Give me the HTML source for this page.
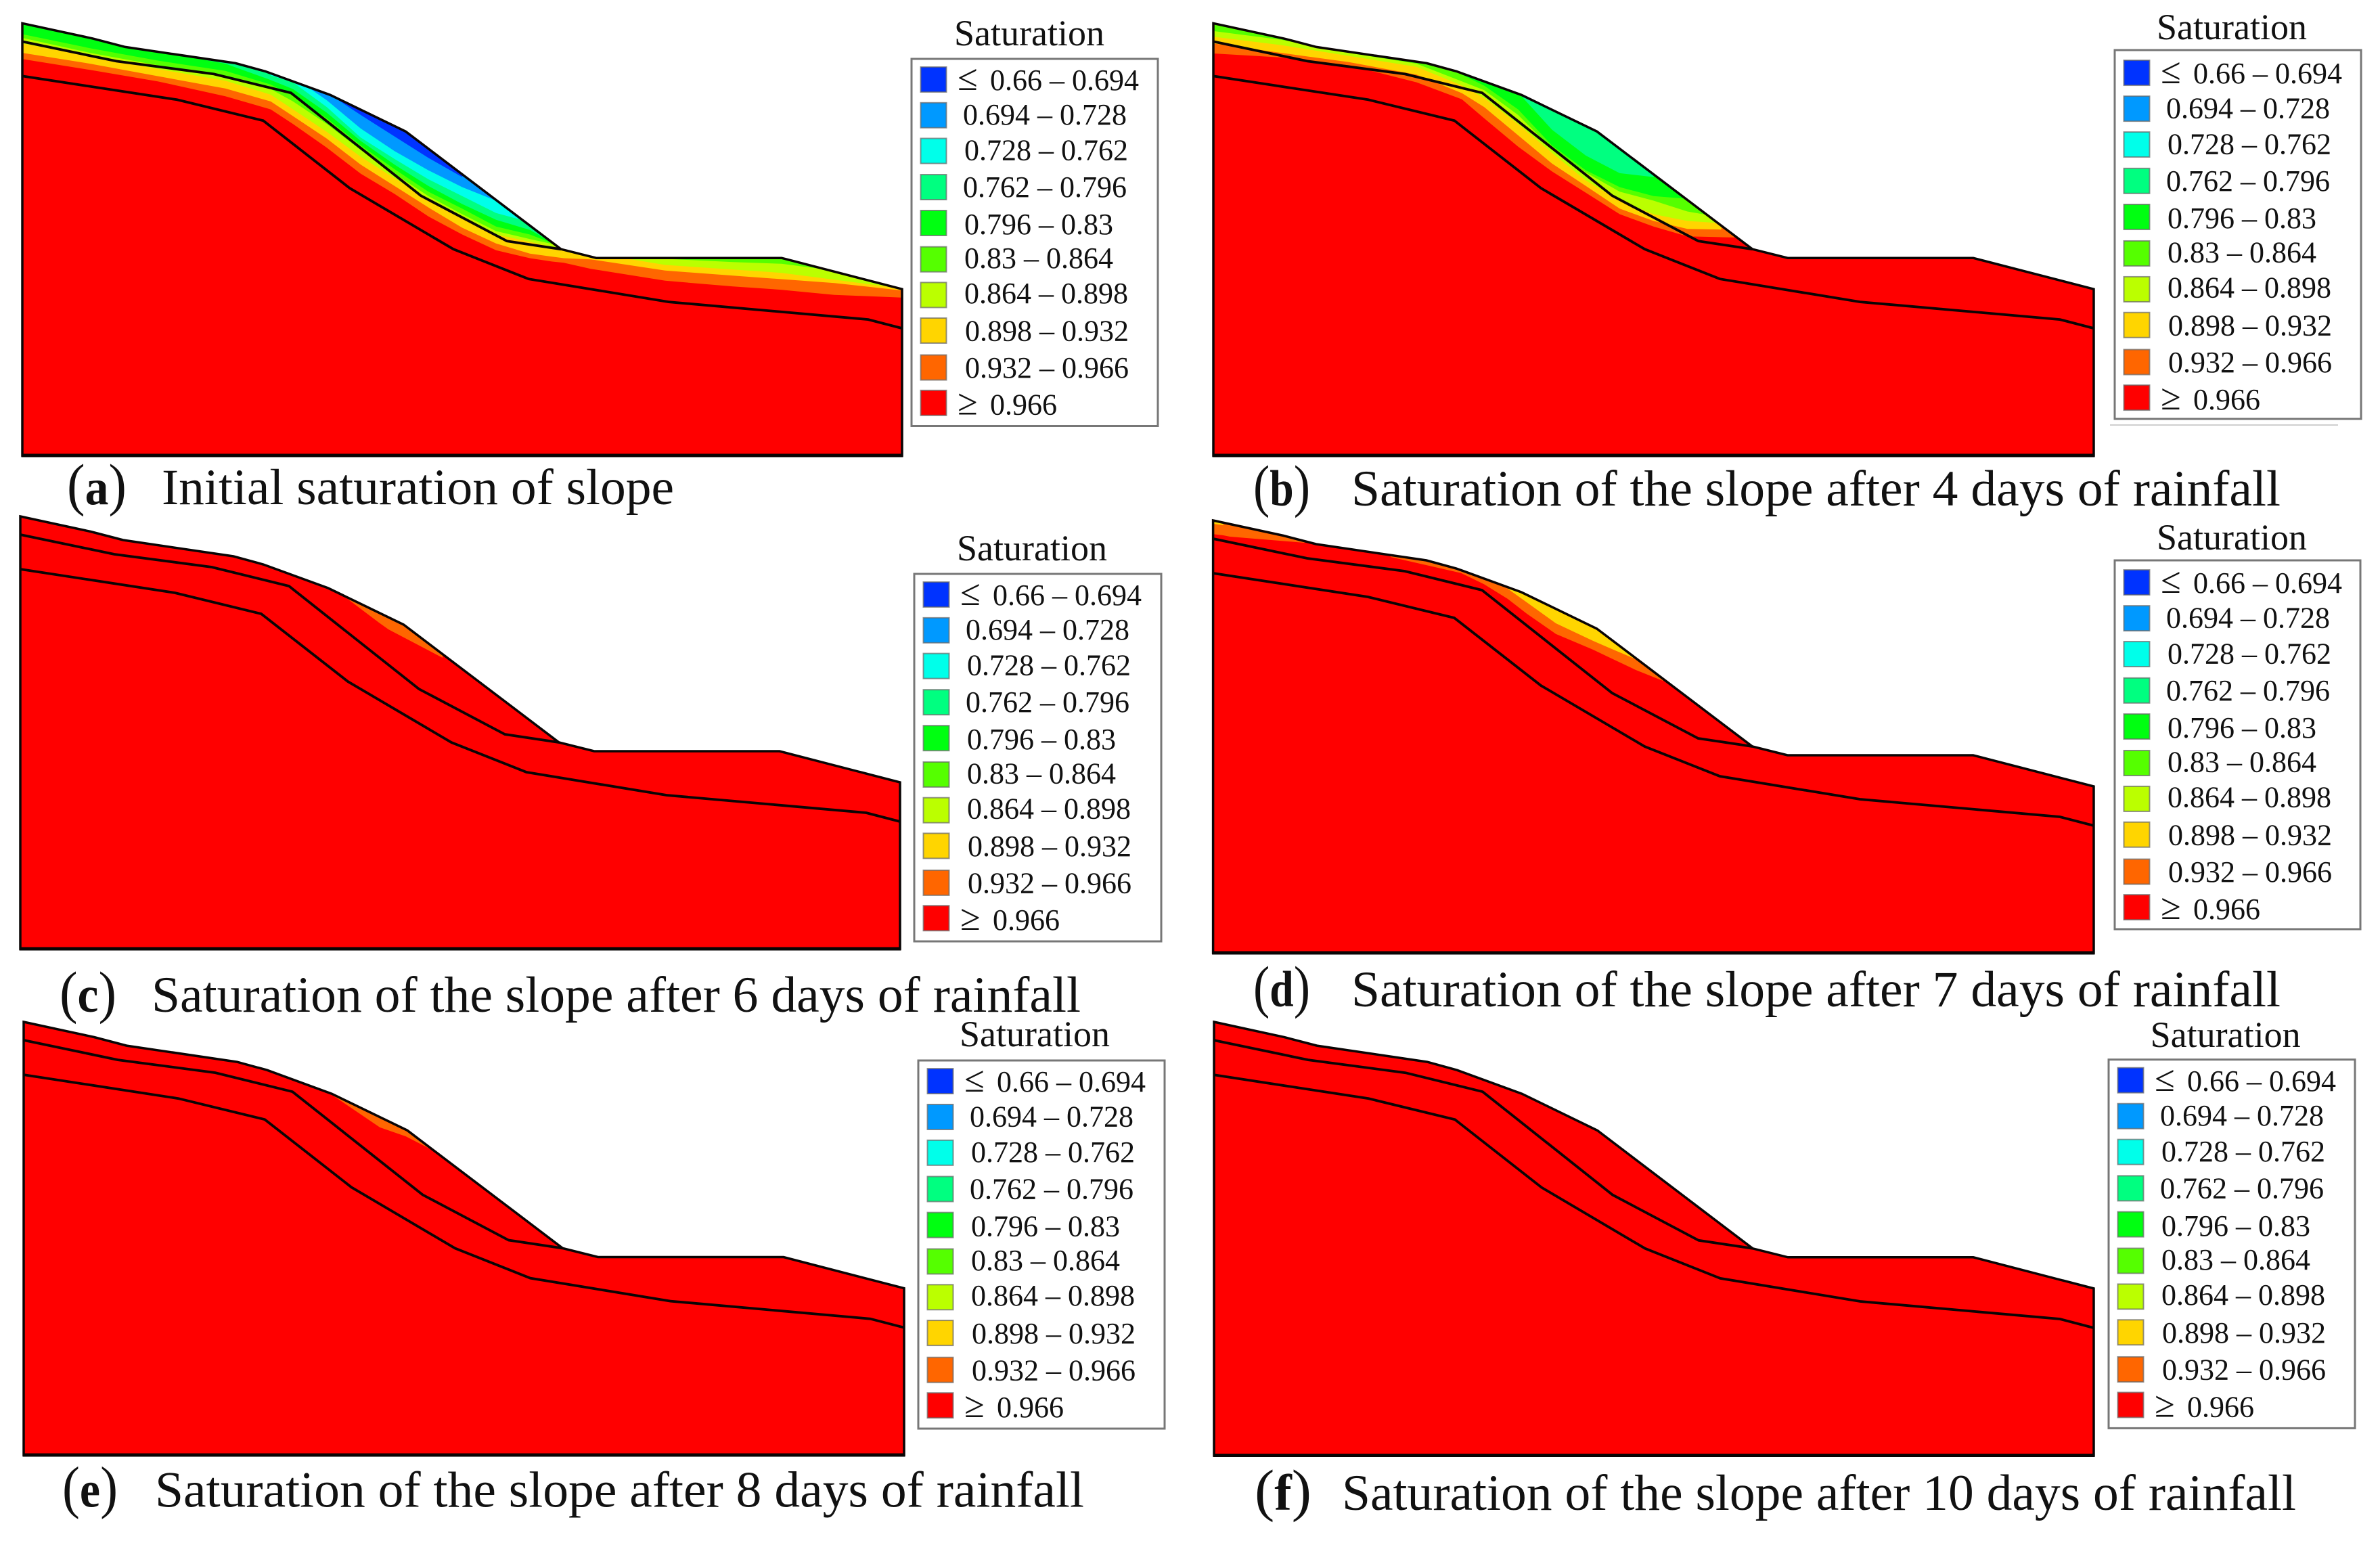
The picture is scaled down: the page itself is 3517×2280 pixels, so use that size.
<!DOCTYPE html>
<html lang="en">
<head>
<meta charset="utf-8">
<title>Slope saturation under rainfall</title>
<style>
html,body{margin:0;padding:0;background:#fff;}
body{width:3517px;height:2280px;overflow:hidden;}
svg{display:block;}
text{font-family:"Liberation Serif","Noto Serif CJK SC",serif;fill:#111;}
</style>
</head>
<body>
<svg id="figure" xmlns="http://www.w3.org/2000/svg" width="3517" height="2280" viewBox="0 0 3517 2280">
<rect x="0" y="0" width="3517" height="2280" fill="#ffffff"/>
<line x1="3118" y1="628" x2="3455" y2="628" stroke="#cfcfcf" stroke-width="2"/>
</svg>
<script>
// Slope geometry: distance along the section and elevation, in model metres.
const surfaceX = [0,10.4,15.2,31.5,35.9,45.5,56.65,79.6,84.8,112.2,130];
const surfaceElev = [63.9,61.65,60.4,58,56.8,53.3,47.9,30.5,29.2,29.2,24.6];
const upperLayerX = [0,13.9,28.3,39.7,58.9,71.6,79.6];
const upperLayerElev = [61.2,58.3,56.4,53.6,38.4,31.7,30.5];
const lowerLayerX = [0,22.85,35.6,48.4,63.7,74.8,95.5,125,130];
const lowerLayerElev = [56.1,52.6,49.5,39.5,30.5,26.1,22.7,20.1,18.8];

// Legend classes
const classLabels = ["0.66 – 0.694","0.694 – 0.728","0.728 – 0.762","0.762 – 0.796","0.796 – 0.83","0.83 – 0.864","0.864 – 0.898","0.898 – 0.932","0.932 – 0.966","0.966"];
const classPrefixes = ["≤","","","","","","","","","≥"];
const classColors = ["#0033ff","#0099ff","#00ffea","#00ff80","#00ff11","#55ff00","#bbff00","#ffd500","#ff6600","#ff0000"];

// Contours: elevation of each saturation threshold at each station. null = contour lies above the ground here.
const stationsA = [0,10,20,30,36.7,40,45,50,55,60,65,70,75,78.3,80,84,95,105,112.2,120,130];
const contourA_0694 = [null,null,null,null,null,null,53.67,50.34,47.17,44,41.17,null,null,null,null,null,null,null,null,null,null];
const contourA_0728 = [null,null,null,null,56.6,56,52.5,48.34,45,42.17,39.67,37.67,null,null,null,null,null,null,null,null,null];
const contourA_0762 = [null,null,null,null,56.2,55.17,51.5,47,43.84,40.84,38.34,35.84,34.5,null,null,null,null,null,null,null,null];
const contourA_0796 = [null,null,59.76,57.93,55.5,54.17,50.67,46.5,43,39.84,37.17,34.84,33.34,31.5,null,null,null,null,null,null,null];
const contourA_083 = [62.29,60.22,58.39,56.87,54.84,53.17,49.84,45.84,42.34,39,36.5,33.84,32.67,31.4,null,null,29.6,29.34,29.07,28.5,null];
const contourA_0864 = [61.74,59.53,57.7,56.09,54.17,52.34,49,45.17,41.67,38.34,35.67,33.17,32,31.27,31,null,29.07,28.6,28.34,27.34,null];
const contourA_0898 = [60.91,59.08,57.15,55.4,53.34,51.17,47.84,44.17,41,37.84,35,32.67,31.6,30.84,30.67,30,28.17,27.5,27,26,24.67];
const contourA_0932 = [59.53,57.93,56.09,54.25,52.34,50.17,46.84,43,39.84,36.67,33.67,31.34,29.84,29.4,29.17,29,27.34,26.6,26.07,25.5,24.4];
const contourA_0966 = [58.62,57.01,55.31,53.11,51.17,49,45.5,41.67,38.67,35.34,32.67,30.34,29.17,28.67,28.5,27.6,25.84,25,24.5,23.74,23.34];

const stationsB = [0,10,20,30,36.7,40,45,50,55,60,65,70,75,78.3];
const contourB_0796 = [null,null,null,null,null,null,53.67,48.17,44.34,41.74,41.17,null,null,null];
const contourB_083 = [null,null,null,null,56.32,54.67,51.17,45.84,42.17,39.67,38.34,37.94,null,null];
const contourB_0864 = [62.75,61.46,59.53,57.93,55.31,54,50.34,45.34,41.84,39,37.67,36.07,35.2,null];
const contourB_0898 = [61.92,60.68,59.08,57.47,54.71,52.84,49,44.74,40.67,37.67,35.67,34.67,34.34,null];
const contourB_0932 = [60.91,59.53,58.16,56.32,53.57,51.5,47.34,43.17,39.84,36.5,34.67,33.5,33.4,null];
const contourB_0966 = [59.44,58.85,57.7,55.17,52.65,49.84,45.67,42,38.84,35.67,33.84,32.4,32.27,32.2];

const stationsC = [45,48.1,53,54.4,62.4,65];
const contourC_0966 = [null,51.9,48.2,47.2,43,null];

const stationsD = [0,1.5,2.5,13.5,15,26.3,36.6,40,43.5,46.3,50.6,56.1,58.4,62.4,66.4,70];
const contourD_0932 = [63.4,63.2,null,null,null,null,null,null,53.8,51.8,48.7,46.1,45.1,43.4,null,null];
const contourD_0966 = [61.87,61.7,61.5,60.6,null,58.47,56.13,54.47,52.3,50.13,47.13,44.8,43.7,41.8,40.2,null];

const stationsE = [43,45,52.6,56.45,60,62];
const contourE_0966 = [null,53.5,48.33,47,45.17,null];

const stationsF = [];

// Captions
const captionLetters = ["a","b","c","d","e","f"];
const captionTexts = ["Initial saturation of slope","Saturation of the slope after 4 days of rainfall","Saturation of the slope after 6 days of rainfall","Saturation of the slope after 7 days of rainfall","Saturation of the slope after 8 days of rainfall","Saturation of the slope after 10 days of rainfall"];
const legendTitle = "Saturation";

// Which colour class starts at the ground surface, and which class each contour reveals beneath it
const panelContours = [
  {base:0, stations:stationsA, lines:[[1,contourA_0694],[2,contourA_0728],[3,contourA_0762],[4,contourA_0796],[5,contourA_083],[6,contourA_0864],[7,contourA_0898],[8,contourA_0932],[9,contourA_0966]]},
  {base:3, stations:stationsB, lines:[[4,contourB_0796],[5,contourB_083],[6,contourB_0864],[7,contourB_0898],[8,contourB_0932],[9,contourB_0966]]},
  {base:8, stations:stationsC, lines:[[9,contourC_0966]]},
  {base:7, stations:stationsD, lines:[[8,contourD_0932],[9,contourD_0966]]},
  {base:8, stations:stationsE, lines:[[9,contourE_0966]]},
  {base:9, stations:stationsF, lines:[]}
];

// Page layout (pixels) — separate from the data above
const frames = [
  {left:33,top:34.4,right:1333,bottom:673},
  {left:1793,top:34.4,right:3094,bottom:673},
  {left:30,top:763,right:1330,bottom:1402},
  {left:1792.6,top:769,right:3094,bottom:1408},
  {left:35,top:1510,right:1336,bottom:2150},
  {left:1794,top:1510,right:3094,bottom:2150.5}
];
const legendBoxes = [
  {left:1347,top:87,width:364,height:542.5,titleX:1521,titleY:67,rowShift:0},
  {left:3125,top:74,width:364,height:545,titleX:3298,titleY:58,rowShift:3},
  {left:1351,top:848,width:365,height:543,titleX:1525,titleY:828,rowShift:0},
  {left:3125,top:828,width:363,height:545,titleX:3298,titleY:812,rowShift:2},
  {left:1357,top:1567,width:364,height:544,titleX:1529,titleY:1546,rowShift:0},
  {left:3116,top:1565.7,width:364,height:544.7,titleX:3288.6,titleY:1547,rowShift:0}
];
const captionLayout = [
  {px:99,pw:88,tx:239,tw:757,y:745},
  {px:1852,pw:84,tx:1997,tw:1373,y:747},
  {px:88,pw:84,tx:224,tw:1373,y:1495},
  {px:1852,pw:84,tx:1997,tw:1373,y:1487},
  {px:92,pw:82,tx:229,tw:1373,y:2226.7},
  {px:1854,pw:84,tx:1983,tw:1410,y:2231}
];
const rowBaselines = [46,97,149.6,204,259,309,361,416.6,471,525.5];
const swatchTops = [12,64.8,117.5,171,224,277.7,330.4,383,437.5,489.8];
const labelOffsets = [116,76,78,76,78,78,78,79,79,116];
const CEILING = 70;
const X_MAX = 130;
const Y_MAX = 63.9;

const NS = 'http://www.w3.org/2000/svg';
const svg = document.getElementById('figure');

function make(tag, parent, props) {
  const el = document.createElementNS(NS, tag);
  for (const k in props) el.setAttribute(k, props[k]);
  parent.appendChild(el);
  return el;
}

frames.forEach(function (frame, p) {
  const id = captionLetters[p];
  const scaleX = function (x) { return frame.left + x / X_MAX * (frame.right - frame.left); };
  const scaleY = function (e) { return frame.bottom - e / Y_MAX * (frame.bottom - frame.top); };
  const toPoints = function (xs, ys) {
    return xs.map(function (x, i) { return scaleX(x).toFixed(1) + ',' + scaleY(ys[i]).toFixed(1); });
  };

  const group = make('g', svg, {});
  
  

  const outline = toPoints(surfaceX, surfaceElev).concat([
    scaleX(X_MAX).toFixed(1) + ',' + scaleY(0).toFixed(1),
    scaleX(0).toFixed(1) + ',' + scaleY(0).toFixed(1)
  ]).join(' ');

  const clip = make('clipPath', group, {id: 'clip-' + id});
  make('polygon', clip, {points: outline});

  const cfg = panelContours[p];
  const bands = make('g', group, {'clip-path': 'url(#clip-' + id + ')'});
  
  

  const base = make('polygon', bands, {points: outline, fill: classColors[cfg.base]});
  
  

  cfg.lines.forEach(function (entry) {
    const cls = entry[0];
    const values = entry[1];
    const st = cfg.stations;
    const pts = [];
    pts.push(scaleX(0).toFixed(1) + ',' + scaleY(0).toFixed(1));
    if (st[0] > 0) pts.push(scaleX(0).toFixed(1) + ',' + scaleY(CEILING).toFixed(1));
    st.forEach(function (x, i) {
      const e = values[i] === null ? CEILING : values[i];
      pts.push(scaleX(x).toFixed(1) + ',' + scaleY(e).toFixed(1));
    });
    if (st[st.length - 1] < X_MAX) pts.push(scaleX(X_MAX).toFixed(1) + ',' + scaleY(CEILING).toFixed(1));
    pts.push(scaleX(X_MAX).toFixed(1) + ',' + scaleY(0).toFixed(1));
    const band = make('polygon', bands, {points: pts.join(' '), fill: classColors[cls]});
    
    
  });

  const upper = make('polyline', group, {points: toPoints(upperLayerX, upperLayerElev).join(' '), fill: 'none', stroke: '#0a0505', 'stroke-width': 3.8});
  
  

  const lower = make('polyline', group, {points: toPoints(lowerLayerX, lowerLayerElev).join(' '), fill: 'none', stroke: '#0a0505', 'stroke-width': 3.8});
  
  

  const border = make('polygon', group, {points: outline, fill: 'none', stroke: '#0a0505', 'stroke-width': 3.5});
  
  

  const baseLine = make('line', group, {x1: scaleX(0) - 1.5, x2: scaleX(X_MAX) + 1.5, y1: scaleY(0), y2: scaleY(0), stroke: '#0a0505', 'stroke-width': 5});
  
  

  // Legend
  const box = legendBoxes[p];
  const legend = make('g', group, {});
  
  

  const title = make('text', legend, {x: box.titleX, y: box.titleY, 'font-size': 54, 'text-anchor': 'middle'});
  
  
  title.textContent = legendTitle;

  const frameRect = make('rect', legend, {x: box.left, y: box.top, width: box.width, height: box.height, fill: '#fff', stroke: '#777', 'stroke-width': 3});
  
  

  const rowScale = box.height / 542.5;
  classLabels.forEach(function (label, i) {
    const swatch = make('rect', legend, {x: box.left + 13.5, y: box.top + box.rowShift + swatchTops[i] * rowScale, width: 38, height: 37, fill: classColors[i], stroke: '#666', 'stroke-opacity': 0.7, 'stroke-width': 2});
    
    

    const y = box.top + box.rowShift + rowBaselines[i] * rowScale;
    if (classPrefixes[i]) {
      const sym = make('text', legend, {x: box.left + 68, y: y, 'font-size': 54});
      
      
      sym.textContent = classPrefixes[i];
    }
    const txt = make('text', legend, {x: box.left + labelOffsets[i], y: y, 'font-size': 44});
    
    
    txt.textContent = label;
  });

  // Caption
  const c = captionLayout[p];
  const tag = make('text', group, {x: c.px, y: c.y, 'font-size': 75, textLength: c.pw, lengthAdjust: 'spacingAndGlyphs'});
  
  
  const open = make('tspan', tag, {'font-size': 86});
  open.textContent = '(';
  const letter = make('tspan', tag, {'font-weight': 'bold'});
  letter.textContent = id;
  const close = make('tspan', tag, {'font-size': 86});
  close.textContent = ')';

  const cap = make('text', group, {x: c.tx, y: c.y, 'font-size': 75, textLength: c.tw, lengthAdjust: 'spacingAndGlyphs'});
  
  
  cap.textContent = captionTexts[p];
});
</script>
</body>
</html>
